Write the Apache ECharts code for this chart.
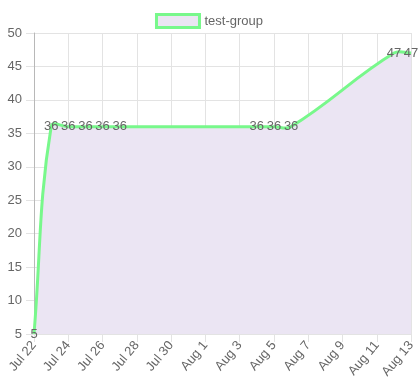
<!DOCTYPE html>
<html>
<head>
<meta charset="utf-8">
<script src="https://cdn.jsdelivr.net/npm/echarts@6/dist/echarts.min.js"></script>
<style>
  html, body { margin: 0; padding: 0; background: #fff; }
  #chart { width: 418px; height: 383px; }
</style>
</head>
<body>
<div id="chart"></div>
<script>
// Observation dates and values for the single series
const dates = ['2019-07-22', '2019-07-23', '2019-07-24', '2019-07-25', '2019-07-26', '2019-07-27',
               '2019-08-04', '2019-08-05', '2019-08-06', '2019-08-12', '2019-08-13'];
const values = [5, 36, 36, 36, 36, 36, 36, 36, 36, 47, 47];
const seriesName = 'test-group';
const startDate = '2019-07-22';
const endDate = '2019-08-13';
const yMin = 5, yMax = 50, yStep = 5;
const monthNames = ['Jan', 'Feb', 'Mar', 'Apr', 'May', 'Jun', 'Jul', 'Aug', 'Sep', 'Oct', 'Nov', 'Dec'];

const DAY = 86400000;
const t0 = Date.parse(startDate + 'T00:00:00Z');
const dayOffset = d => Math.round((Date.parse(d + 'T00:00:00Z') - t0) / DAY);
const dayLabel = n => {
  const d = new Date(t0 + n * DAY);
  return monthNames[d.getUTCMonth()] + ' ' + d.getUTCDate();
};
const days = dates.map(dayOffset);

const lineColor = '#78f88b';
const fillColor = '#ebe5f3';
const gridColor = '#e3e3e3';
const textColor = '#666';
const font = 'Liberation Sans, Arial, Helvetica, sans-serif';
const fontSize = 13;
const tension = 0.4;

// Cardinal-style spline control points (same construction as a tension-based line)
function controlPoints(pts) {
  return pts.map((cur, i) => {
    const prev = pts[i - 1] || cur;
    const next = pts[i + 1] || cur;
    const d01 = Math.hypot(cur[0] - prev[0], cur[1] - prev[1]);
    const d12 = Math.hypot(next[0] - cur[0], next[1] - cur[1]);
    const sum = d01 + d12;
    const fa = sum ? tension * d01 / sum : 0;
    const fb = sum ? tension * d12 / sum : 0;
    const vx = next[0] - prev[0], vy = next[1] - prev[1];
    return {
      prev: [cur[0] - fa * vx, cur[1] - fa * vy],
      next: [cur[0] + fb * vx, cur[1] + fb * vy]
    };
  });
}

function renderCurve(params, api) {
  const children = [];
  const i = params.dataIndex;
  if (i === 0) {
    const pts = days.map((x, k) => api.coord([x, values[k]]));
    const cps = controlPoints(pts);
    let d = 'M' + pts[0][0] + ' ' + pts[0][1];
    for (let k = 1; k < pts.length; k++) {
      const a = cps[k - 1].next, b = cps[k].prev, p = pts[k];
      d += ' C' + a[0] + ' ' + a[1] + ' ' + b[0] + ' ' + b[1] + ' ' + p[0] + ' ' + p[1];
    }
    const baseY = api.coord([days[0], yMin])[1];
    const last = pts[pts.length - 1];
    const area = d + ' L' + last[0] + ' ' + baseY + ' L' + pts[0][0] + ' ' + baseY + ' Z';
    children.push({ type: 'path', shape: { pathData: area }, style: { fill: fillColor, stroke: null }, z2: 1 });
    children.push({ type: 'path', shape: { pathData: d },
      style: { fill: null, stroke: lineColor, lineWidth: 3, lineJoin: 'round' }, z2: 2 });
  }
  const p = api.coord([api.value(0), api.value(1)]);
  children.push({
    type: 'text', z2: 3,
    style: { x: p[0], y: p[1], text: String(api.value(1)), fill: textColor,
             font: fontSize + 'px ' + font, align: 'center', verticalAlign: 'middle' }
  });
  return { type: 'group', children };
}

const chart = echarts.init(document.getElementById('chart'), null, { renderer: 'canvas' });
chart.setOption({
  animation: false,
  textStyle: { fontFamily: font },
  legend: {
    top: 8,
    left: 'center',
    itemWidth: 43,
    itemHeight: 13,
    textStyle: { color: textColor, fontSize: fontSize, fontFamily: font },
    data: [{
      name: seriesName,
      icon: 'rect',
      itemStyle: { color: fillColor, borderColor: lineColor, borderWidth: 3, opacity: 1 }
    }]
  },
  grid: { left: 34, right: 4, top: 33, bottom: 49, containLabel: false },
  xAxis: {
    type: 'value',
    min: 0,
    max: dayOffset(endDate),
    interval: 2,
    axisLine: { show: true, lineStyle: { color: gridColor } },
    axisTick: { show: true, length: 8, lineStyle: { color: gridColor } },
    splitLine: { show: true, lineStyle: { color: gridColor } },
    axisLabel: {
      rotate: 50,
      margin: 9,
      color: textColor,
      fontSize: fontSize,
      fontFamily: font,
      formatter: v => dayLabel(v)
    }
  },
  yAxis: {
    type: 'value',
    min: yMin,
    max: yMax,
    interval: yStep,
    axisLine: { show: true, lineStyle: { color: '#b8b8b8' } },
    axisTick: { show: true, length: 8, lineStyle: { color: gridColor } },
    splitLine: { show: true, lineStyle: { color: gridColor } },
    axisLabel: { margin: 12, color: textColor, fontSize: fontSize, fontFamily: font }
  },
  series: [{
    name: seriesName,
    type: 'custom',
    coordinateSystem: 'cartesian2d',
    data: days.map((x, i) => [x, values[i]]),
    encode: { x: 0, y: 1 },
    itemStyle: { color: fillColor, borderColor: lineColor },
    renderItem: renderCurve,
    clip: false,
    z: 3
  }]
});
</script>
</body>
</html>
